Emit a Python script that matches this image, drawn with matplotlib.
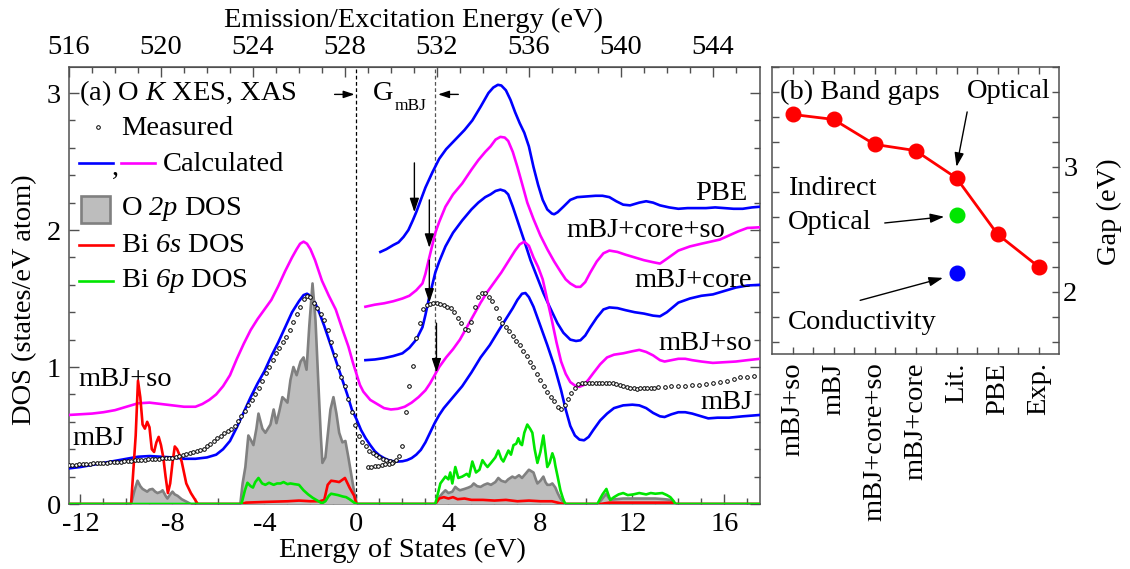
import numpy as np
import matplotlib
matplotlib.use("Agg")
import matplotlib.pyplot as plt
from matplotlib.ticker import MultipleLocator, FixedLocator
from matplotlib.patches import Rectangle
from matplotlib.lines import Line2D

plt.rcParams['font.family'] = ['Liberation Serif', 'DejaVu Serif']
plt.rcParams['mathtext.fontset'] = 'custom'
plt.rcParams['mathtext.rm'] = 'Liberation Serif'
plt.rcParams['mathtext.it'] = 'Liberation Serif:italic'
plt.rcParams['mathtext.sf'] = 'Liberation Serif:italic'
plt.rcParams['axes.unicode_minus'] = False
FS = 20.5
plt.rcParams['font.size'] = FS

BLUE = '#0000ff'
MAG = '#ff00ff'
RED = '#ff0000'
GREEN = '#00e600'
GRAY_EDGE = '#808080'
GRAY_FILL = '#bdbdbd'
SPINE = '#505050'

# ---------------- panel (a): O K-edge spectra ----------------
# calculated mBJ spectrum (emission + absorption)
mbj_e = [-12.5, -12.0, -11.5, -11.0, -10.5, -10.0, -9.5, -9.0, -8.5, -8.0, -7.5, -7.0, -6.5,
         -6.1, -5.8, -5.5, -5.2, -4.9, -4.6, -4.3, -4.0, -3.7, -3.4, -3.1, -2.8, -2.5, -2.3,
         -2.15, -2.0, -1.8, -1.6, -1.4, -1.2, -1.0, -0.8, -0.6, -0.4, -0.2, 0.0, 0.2, 0.4,
         0.6, 0.8, 1.0, 1.2, 1.4, 1.6, 1.8, 2.0, 2.2, 2.4, 2.6, 2.8, 3.0, 3.2, 3.4, 3.6, 3.8,
         4.0, 4.3, 4.6, 5.0, 5.4, 5.8, 6.2, 6.5, 6.8, 7.0, 7.2, 7.35, 7.5, 7.7, 8.0, 8.3, 8.6,
         8.9, 9.1, 9.3, 9.5, 9.7, 9.9, 10.1, 10.3, 10.6, 10.9, 11.2, 11.6, 12.0, 12.3, 12.6,
         12.9, 13.2, 13.4, 13.7, 14.0, 14.3, 14.6, 15.0, 15.3, 15.7, 16.2, 16.8, 17.55]
mbj_i = [0.26, 0.27, 0.285, 0.30, 0.315, 0.33, 0.345, 0.35, 0.345, 0.34, 0.33, 0.33, 0.34,
         0.36, 0.40, 0.46, 0.56, 0.67, 0.78, 0.88, 0.97, 1.08, 1.18, 1.29, 1.40, 1.48, 1.525,
         1.535, 1.52, 1.47, 1.39, 1.30, 1.20, 1.10, 1.00, 0.90, 0.80, 0.69, 0.62, 0.54, 0.48,
         0.43, 0.385, 0.355, 0.335, 0.32, 0.312, 0.31, 0.312, 0.32, 0.335, 0.36, 0.395, 0.45,
         0.52, 0.59, 0.65, 0.70, 0.74, 0.80, 0.86, 0.96, 1.07, 1.16, 1.27, 1.35, 1.43, 1.49,
         1.535, 1.54, 1.51, 1.44, 1.30, 1.16, 1.01, 0.83, 0.69, 0.57, 0.50, 0.47, 0.465, 0.49,
         0.54, 0.61, 0.66, 0.70, 0.72, 0.725, 0.72, 0.70, 0.665, 0.64, 0.635, 0.655, 0.67,
         0.67, 0.66, 0.64, 0.625, 0.63, 0.63, 0.64, 0.65]

# calculated mBJ+so spectrum (emission + absorption)
mbjso_e = [-12.5, -12.0, -11.5, -11.0, -10.5, -10.0, -9.5, -9.0, -8.5, -8.0, -7.5, -7.0, -6.7,
           -6.4, -6.1, -5.8, -5.5, -5.2, -4.9, -4.6, -4.3, -4.0, -3.7, -3.4, -3.1, -2.8, -2.6,
           -2.45, -2.3, -2.15, -2.0, -1.8, -1.5, -1.2, -0.9, -0.6, -0.35, -0.15, 0.0, 0.15,
           0.3, 0.6, 0.9, 1.2, 1.5, 1.8, 2.1, 2.4, 2.7, 3.0, 3.2, 3.4, 3.6, 3.9, 4.2, 4.5, 4.8,
           5.1, 5.4, 5.7, 6.0, 6.3, 6.6, 6.9, 7.1, 7.3, 7.5, 7.7, 7.9, 8.1, 8.3, 8.5, 8.7, 8.9,
           9.1, 9.3, 9.5, 9.7, 9.9, 10.1, 10.3, 10.6, 10.9, 11.2, 11.6, 12.0, 12.3, 12.6, 12.9,
           13.2, 13.4, 13.7, 14.0, 14.3, 14.6, 15.0, 15.5, 16.0, 16.5, 17.0, 17.55]
mbjso_i = [0.65, 0.655, 0.66, 0.67, 0.685, 0.71, 0.735, 0.74, 0.73, 0.72, 0.71, 0.71, 0.73,
           0.76, 0.80, 0.86, 0.94, 1.06, 1.17, 1.27, 1.35, 1.42, 1.49, 1.59, 1.70, 1.80, 1.86,
           1.90, 1.915, 1.90, 1.86, 1.78, 1.63, 1.52, 1.42, 1.27, 1.15, 1.03, 0.95, 0.87,
           0.82, 0.76, 0.73, 0.70, 0.69, 0.695, 0.71, 0.74, 0.78, 0.83, 0.88, 0.94, 1.00, 1.07,
           1.13, 1.20, 1.29, 1.38, 1.47, 1.55, 1.62, 1.69, 1.77, 1.85, 1.895, 1.915, 1.885,
           1.80, 1.73, 1.64, 1.49, 1.34, 1.18, 1.04, 0.95, 0.89, 0.865, 0.855, 0.87, 0.91,
           0.955, 1.02, 1.07, 1.09, 1.10, 1.115, 1.125, 1.11, 1.085, 1.05, 1.04, 1.05, 1.06,
           1.06, 1.05, 1.04, 1.03, 1.035, 1.04, 1.05, 1.06]

# calculated absorption: PBE
pbe_e = [1.04, 1.3, 1.6, 1.83, 2.05, 2.26, 2.45, 2.6, 2.8, 3.0, 3.3, 3.6, 3.9, 4.3, 4.7, 5.04,
         5.4, 5.74, 5.95, 6.15, 6.3, 6.5, 6.7, 6.9, 7.1, 7.3, 7.5, 7.7, 7.9, 8.1, 8.3, 8.5, 8.6,
         8.75, 9.0, 9.3, 9.6, 10.0, 10.4, 10.7, 11.0, 11.3, 11.6, 11.9, 12.3, 12.6, 12.9, 13.2,
         13.6, 14.0, 14.4, 14.8, 15.2, 15.6, 16.0, 16.4, 16.8, 17.2, 17.55]
pbe_i = [1.84, 1.86, 1.89, 1.91, 1.95, 2.00, 2.07, 2.13, 2.22, 2.31, 2.42, 2.52, 2.59, 2.66,
         2.73, 2.80, 2.90, 3.00, 3.04, 3.06, 3.055, 3.02, 2.95, 2.86, 2.78, 2.71, 2.61, 2.46,
         2.33, 2.22, 2.15, 2.12, 2.115, 2.13, 2.17, 2.22, 2.24, 2.245, 2.25, 2.25, 2.24, 2.21,
         2.185, 2.18, 2.20, 2.21, 2.20, 2.18, 2.165, 2.155, 2.16, 2.16, 2.16, 2.165, 2.16,
         2.155, 2.155, 2.165, 2.17]

# calculated absorption: mBJ+core+so
core_so_e = [0.39, 0.8, 1.2, 1.6, 2.0, 2.3, 2.6, 2.87, 3.0, 3.14, 3.3, 3.43, 3.6, 3.87, 4.2,
             4.6, 5.0, 5.3, 5.6, 5.83, 6.05, 6.26, 6.45, 6.6, 6.8, 7.0, 7.2, 7.43, 7.7, 8.0,
             8.3, 8.6, 8.9, 9.1, 9.3, 9.55, 9.74, 9.95, 10.17, 10.45, 10.74, 11.0, 11.35, 11.7,
             12.1, 12.5, 12.9, 13.2, 13.5, 14.0, 14.5, 15.0, 15.4, 15.8, 16.2, 16.6, 17.0, 17.55]
core_so_i = [1.44, 1.455, 1.465, 1.48, 1.50, 1.52, 1.56, 1.61, 1.68, 1.78, 1.89, 1.98, 2.06,
             2.17, 2.26, 2.34, 2.44, 2.51, 2.57, 2.61, 2.66, 2.68, 2.675, 2.65, 2.57, 2.46,
             2.34, 2.20, 2.08, 1.96, 1.86, 1.77, 1.69, 1.64, 1.61, 1.585, 1.585, 1.62, 1.69,
             1.77, 1.83, 1.85, 1.84, 1.82, 1.80, 1.78, 1.765, 1.755, 1.79, 1.85, 1.88, 1.90,
             1.915, 1.93, 1.96, 1.99, 2.015, 2.02]

# calculated absorption: mBJ+core
core_e = [0.39, 0.8, 1.2, 1.6, 2.0, 2.3, 2.6, 2.87, 3.0, 3.14, 3.3, 3.43, 3.6, 3.87, 4.2, 4.6,
          5.0, 5.3, 5.6, 5.83, 6.05, 6.26, 6.45, 6.6, 6.8, 7.0, 7.3, 7.57, 7.85, 8.13, 8.4,
          8.74, 9.0, 9.3, 9.55, 9.74, 9.95, 10.17, 10.45, 10.74, 11.0, 11.35, 11.7, 12.1, 12.5,
          12.9, 13.2, 13.5, 14.0, 14.5, 15.0, 15.5, 16.0, 16.5, 17.0, 17.55]
core_i = [1.05, 1.055, 1.065, 1.08, 1.10, 1.14, 1.20, 1.29, 1.38, 1.49, 1.60, 1.69, 1.77,
          1.88, 1.98, 2.07, 2.15, 2.20, 2.24, 2.26, 2.285, 2.295, 2.285, 2.26, 2.17, 2.07,
          1.92, 1.78, 1.66, 1.54, 1.44, 1.32, 1.25, 1.20, 1.19, 1.195, 1.23, 1.29, 1.36, 1.42,
          1.435, 1.43, 1.415, 1.40, 1.39, 1.375, 1.37, 1.40, 1.47, 1.50, 1.52, 1.53, 1.555,
          1.58, 1.595, 1.60]

# measured O K XES
xes_e = np.round(np.arange(-12.5, 1.61, 0.15), 2)
xes_i = [0.285, 0.287, 0.288, 0.290, 0.291, 0.293, 0.294, 0.296, 0.297, 0.299, 0.300, 0.302,
         0.304, 0.306, 0.308, 0.310, 0.312, 0.314, 0.316, 0.318, 0.320, 0.322, 0.324, 0.326,
         0.328, 0.330, 0.331, 0.333, 0.334, 0.335, 0.338, 0.345, 0.352, 0.360, 0.368, 0.375,
         0.380, 0.385, 0.392, 0.405, 0.42, 0.44, 0.46, 0.48, 0.50, 0.515, 0.53, 0.545, 0.57,
         0.605, 0.64, 0.68, 0.72, 0.76, 0.80, 0.845, 0.90, 0.955, 1.00, 1.05, 1.10, 1.14, 1.18,
         1.22, 1.27, 1.33, 1.39, 1.44, 1.50, 1.52, 1.51, 1.47, 1.43, 1.39, 1.34, 1.27, 1.18,
         1.09, 1.00, 0.93, 0.86, 0.77, 0.67, 0.58, 0.50, 0.45, 0.42, 0.39, 0.37, 0.355, 0.34,
         0.33, 0.32, 0.315, 0.31]

# measured O K XAS
xas_e = [0.50, 0.65, 0.80, 0.95, 1.10, 1.25, 1.40, 1.55, 1.70, 1.85, 2.00, 2.15, 2.30, 2.45,
         2.60, 2.75, 2.90, 3.05, 3.20, 3.35, 3.50, 3.65, 3.80, 3.95, 4.10, 4.25, 4.40, 4.55,
         4.70, 4.85, 5.00, 5.15, 5.30, 5.45, 5.60, 5.75, 5.90, 6.05, 6.20, 6.35, 6.50, 6.65,
         6.80, 6.95, 7.10, 7.25, 7.40, 7.55, 7.70, 7.85, 8.00, 8.15, 8.30, 8.45, 8.60, 8.75,
         8.90, 9.05, 9.20, 9.35, 9.50, 9.65, 9.80, 9.95, 10.10, 10.25, 10.40, 10.55, 10.70,
         10.85, 11.00, 11.15, 11.30, 11.45, 11.60, 11.75, 11.90, 12.05, 12.20, 12.35, 12.50,
         12.65, 12.80, 12.95, 13.10, 13.40, 13.70, 14.00, 14.30, 14.60, 14.90, 15.20, 15.50,
         15.80, 16.10, 16.40, 16.70, 17.00, 17.30]
xas_i = [0.27, 0.272, 0.275, 0.28, 0.285, 0.29, 0.295, 0.30, 0.32, 0.35, 0.42, 0.67, 0.86,
         1.01, 1.21, 1.32, 1.42, 1.45, 1.46, 1.47, 1.47, 1.46, 1.45, 1.44, 1.43, 1.40, 1.36,
         1.32, 1.28, 1.27, 1.33, 1.44, 1.51, 1.54, 1.54, 1.51, 1.48, 1.43, 1.36, 1.32, 1.29,
         1.26, 1.23, 1.19, 1.16, 1.12, 1.08, 1.04, 1.00, 0.95, 0.905, 0.86, 0.82, 0.78, 0.75,
         0.71, 0.69, 0.72, 0.77, 0.81, 0.85, 0.875, 0.885, 0.885, 0.885, 0.885, 0.88, 0.885,
         0.88, 0.885, 0.88, 0.88, 0.875, 0.87, 0.865, 0.855, 0.85, 0.845, 0.84, 0.845, 0.845,
         0.85, 0.85, 0.85, 0.855, 0.855, 0.86, 0.86, 0.865, 0.87, 0.87, 0.875, 0.88, 0.89,
         0.90, 0.91, 0.925, 0.93, 0.935]

# partial densities of states
o2p_e = [-12.5, -9.8, -9.65, -9.52, -9.4, -9.3, -9.2, -9.1, -9.0, -8.87, -8.75, -8.65, -8.5,
         -8.43, -8.3, -8.22, -8.1, -8.0, -7.9, -7.78, -7.6, -7.43, -7.2, -5.05, -4.95, -4.83,
         -4.7, -4.6, -4.48, -4.35, -4.26, -4.09, -3.96, -3.85, -3.74, -3.6, -3.48, -3.35,
         -3.22, -3.1, -3.0, -2.87, -2.74, -2.6, -2.5, -2.43, -2.3, -2.17, -2.05, -1.91, -1.78,
         -1.65, -1.55, -1.48, -1.35, -1.25, -1.13, -1.0, -0.87, -0.75, -0.61, -0.48, -0.35,
         -0.25, -0.13, 0.0, 3.43, 3.6, 3.75, 3.87, 4.0, 4.17, 4.3, 4.4, 4.5, 4.7, 4.87, 5.0,
         5.1, 5.25, 5.4, 5.55, 5.7, 5.85, 6.04, 6.17, 6.3, 6.48, 6.6, 6.78, 6.9, 7.07, 7.2,
         7.35, 7.5, 7.6, 7.7, 7.8, 7.87, 8.0, 8.13, 8.22, 8.3, 8.42, 8.52, 8.65, 8.75, 8.87,
         9.05, 10.48, 10.6, 10.7, 10.87, 10.95, 11.04, 11.3, 11.6, 12.0, 12.6, 13.0, 13.4,
         13.65, 13.87, 17.55]
o2p_d = [0, 0, 0.10, 0.17, 0.13, 0.11, 0.10, 0.09, 0.105, 0.11, 0.09, 0.08, 0.09, 0.10, 0.06,
         0.04, 0.07, 0.09, 0.07, 0.06, 0.035, 0.02, 0, 0, 0.15, 0.27, 0.50, 0.47, 0.43, 0.55,
         0.66, 0.55, 0.52, 0.55, 0.58, 0.69, 0.59, 0.68, 0.78, 0.76, 0.74, 0.905, 1.00, 0.94,
         1.00, 1.04, 1.07, 0.98, 1.30, 1.61, 1.34, 0.86, 0.50, 0.30, 0.34, 0.50, 0.69, 0.78,
         0.66, 0.52, 0.45, 0.46, 0.34, 0.24, 0.12, 0, 0, 0.05, 0.08, 0.10, 0.08, 0.09, 0.125,
         0.11, 0.10, 0.11, 0.12, 0.13, 0.15, 0.13, 0.125, 0.14, 0.15, 0.14, 0.16, 0.19, 0.17,
         0.16, 0.18, 0.20, 0.19, 0.21, 0.19, 0.22, 0.25, 0.24, 0.23, 0.18, 0.15, 0.17, 0.20,
         0.16, 0.14, 0.14, 0.15, 0.12, 0.08, 0.04, 0, 0, 0.02, 0.04, 0.075, 0.05, 0.03, 0.035,
         0.04, 0.04, 0.04, 0.04, 0.035, 0.03, 0, 0]

bi6s_e = [-12.5, -9.8, -9.6, -9.5, -9.4, -9.3, -9.2, -9.1, -9.0, -8.9, -8.8, -8.7, -8.6, -8.5,
          -8.4, -8.3, -8.2, -8.1, -8.0, -7.9, -7.8, -7.7, -7.6, -7.4, -7.2, -6.9, -5.0, -4.8,
          -4.0, -3.0, -2.5, -2.0, -1.6, -1.4, -1.25, -1.1, -0.9, -0.75, -0.5, -0.3, -0.1, 0.0,
          3.43, 3.6, 3.8, 4.0, 4.2, 4.4, 4.7, 5.0, 5.5, 6.0, 6.5, 7.0, 7.5, 8.0, 8.5, 9.0,
          10.6, 11.0, 13.8, 13.9, 17.55]
bi6s_d = [0, 0, 0.50, 0.90, 0.78, 0.58, 0.55, 0.60, 0.56, 0.40, 0.38, 0.45, 0.49, 0.43, 0.34,
          0.20, 0.08, 0.15, 0.30, 0.42, 0.40, 0.36, 0.31, 0.15, 0.08, 0, 0, 0.01, 0.015, 0.02,
          0.025, 0.02, 0.02, 0.03, 0.14, 0.17, 0.165, 0.16, 0.19, 0.12, 0.06, 0, 0, 0.04, 0.05,
          0.04, 0.05, 0.035, 0.04, 0.03, 0.03, 0.025, 0.03, 0.02, 0.025, 0.02, 0.02, 0, 0,
          0.01, 0.01, 0, 0]

bi6p_e = [-12.5, -5.0, -4.85, -4.74, -4.6, -4.5, -4.4, -4.26, -4.1, -3.96, -3.8, -3.6, -3.45,
          -3.3, -3.17, -3.0, -2.87, -2.7, -2.5, -2.3, -2.1, -1.9, -1.7, -1.5, -1.35, -1.2,
          -1.1, -0.95, -0.8, -0.6, -0.45, -0.3, -0.1, 0.0, 3.43, 3.65, 3.87, 4.0, 4.08, 4.17,
          4.3, 4.43, 4.6, 4.8, 4.9, 5.04, 5.2, 5.35, 5.48, 5.6, 5.7, 5.85, 6.04, 6.17, 6.3,
          6.39, 6.5, 6.61, 6.72, 6.83, 6.95, 7.04, 7.13, 7.2, 7.3, 7.43, 7.55, 7.65, 7.75, 7.87,
          8.0, 8.13, 8.22, 8.3, 8.4, 8.52, 8.6, 8.65, 8.75, 8.87, 9.0, 9.09, 10.48, 10.6, 10.7,
          10.87, 10.95, 11.04, 11.2, 11.4, 11.6, 11.8, 12.04, 12.3, 12.6, 12.8, 13.0, 13.3,
          13.5, 13.65, 13.8, 13.87, 17.55]
bi6p_d = [0, 0, 0.10, 0.155, 0.13, 0.12, 0.16, 0.19, 0.15, 0.14, 0.155, 0.14, 0.15, 0.15,
          0.16, 0.145, 0.15, 0.145, 0.14, 0.10, 0.07, 0.045, 0.025, 0.005, 0.02, 0.06, 0.075,
          0.07, 0.065, 0.055, 0.05, 0.035, 0.01, 0, 0, 0.15, 0.20, 0.18, 0.23, 0.15, 0.27,
          0.19, 0.20, 0.22, 0.20, 0.31, 0.23, 0.25, 0.32, 0.29, 0.27, 0.30, 0.34, 0.39, 0.33,
          0.31, 0.35, 0.39, 0.36, 0.43, 0.44, 0.48, 0.44, 0.43, 0.52, 0.58, 0.55, 0.52, 0.40,
          0.30, 0.38, 0.50, 0.38, 0.27, 0.30, 0.37, 0.33, 0.28, 0.20, 0.10, 0.03, 0, 0, 0.04,
          0.07, 0.11, 0.07, 0.03, 0.05, 0.07, 0.08, 0.065, 0.07, 0.08, 0.07, 0.08, 0.075, 0.08,
          0.065, 0.05, 0.02, 0, 0]

# band-gap onsets marked on the spectra (x, arrow start, arrow tip)
onset_x = [2.52, 3.17, 3.17, 3.48]
onset_from = [2.49, 2.22, 1.78, 1.32]
onset_to = [2.13, 1.87, 1.47, 0.96]
gap_mbj_lo, gap_mbj_hi = 0.0, 3.43
edge_offset = 528.5
top_ticks = [516, 520, 524, 528, 532, 536, 540, 544]

# ---------------- panel (b): band gaps ----------------
methods = ['mBJ+so', 'mBJ', 'mBJ+core+so', 'mBJ+core', 'Lit.', 'PBE', 'Exp.']
gaps = [3.42, 3.38, 3.18, 3.13, 2.91, 2.46, 2.20]
indirect_optical = 2.61
conductivity_gap = 2.15

# ================= figure =================
fig = plt.figure(figsize=(11.3, 5.69), dpi=100)
ax = fig.add_axes([69 / 1130, 65 / 569, 691 / 1130, 437 / 569])
axb = fig.add_axes([772 / 1130, 215 / 569, 287 / 1130, 287 / 569])

lw = 1.9
ax.plot(pbe_e, pbe_i, color=BLUE, lw=lw, zorder=3)
ax.plot(core_so_e, core_so_i, color=MAG, lw=lw, zorder=3)
ax.plot(core_e, core_i, color=BLUE, lw=lw, zorder=3)
ax.plot(mbjso_e, mbjso_i, color=MAG, lw=lw, zorder=3)
ax.plot(mbj_e, mbj_i, color=BLUE, lw=lw, zorder=3)

ax.fill_between(o2p_e, o2p_d, 0, color=GRAY_FILL, lw=0, zorder=4)
ax.plot(o2p_e, o2p_d, color=GRAY_EDGE, lw=1.9, zorder=4)
ax.plot(bi6s_e, bi6s_d, color=RED, lw=1.9, zorder=5)
ax.plot(bi6p_e, bi6p_d, color=GREEN, lw=1.9, zorder=6)

mk = dict(ls='none', marker='o', ms=2.6, mfc='white', mec='black', mew=0.7, zorder=7)
ax.plot(xes_e, xes_i, **mk)
ax.plot(xas_e, xas_i, **mk)

ax.axvline(gap_mbj_lo, color='black', lw=0.9, ls=(0, (3, 2)), zorder=2)
ax.axvline(gap_mbj_hi, color='#555555', lw=0.9, ls=(0, (3, 2)), zorder=2)

head = dict(arrowstyle='-|>,head_length=0.6,head_width=0.2', color='black', lw=1.0,
            mutation_scale=14, shrinkA=0, shrinkB=0)
for x0, y0, y1 in zip(onset_x, onset_from, onset_to):
    ax.annotate('', xy=(x0, y1), xytext=(x0, y0), arrowprops=head, zorder=8)

small = dict(arrowstyle='-|>,head_length=0.6,head_width=0.2', color='black', lw=1.0,
             mutation_scale=11, shrinkA=0, shrinkB=0)
ax.annotate('', xy=(gap_mbj_lo - 0.08, 2.99), xytext=(gap_mbj_lo - 0.95, 2.99), arrowprops=small)
ax.annotate('', xy=(gap_mbj_hi + 0.12, 2.99), xytext=(gap_mbj_hi + 1.0, 2.99), arrowprops=small)
ax.text(0.72, 3.0, 'G', ha='left', va='center', fontsize=FS)
ax.text(1.68, 2.905, 'mBJ', ha='left', va='center', fontsize=12.5)

# curve labels
ax.text(17.0, 2.27, 'PBE', ha='right', va='center')
ax.text(16.05, 2.0, 'mBJ+core+so', ha='right', va='center')
ax.text(17.2, 1.63, 'mBJ+core', ha='right', va='center')
ax.text(17.2, 1.17, 'mBJ+so', ha='right', va='center')
ax.text(17.25, 0.74, 'mBJ', ha='right', va='center')
ax.text(-12.1, 0.91, 'mBJ+so', ha='left', va='center')
ax.text(-12.35, 0.48, 'mBJ', ha='left', va='center')

# key
ax.text(-12.05, 3.0, r'(a) O $K$ XES, XAS', ha='left', va='center')
ax.plot([-11.26], [2.75], **mk)
ax.text(-10.25, 2.74, 'Measured', ha='left', va='center')
ax.add_line(Line2D([-12.05, -10.57], [2.49, 2.49], color=BLUE, lw=lw))
ax.text(-10.62, 2.40, ',', ha='left', va='baseline')
ax.add_line(Line2D([-10.26, -8.78], [2.49, 2.49], color=MAG, lw=lw))
ax.text(-8.43, 2.48, 'Calculated', ha='left', va='center')
ax.add_patch(Rectangle((-11.96, 2.05), 1.26, 0.20, facecolor=GRAY_FILL,
                       edgecolor=GRAY_EDGE, lw=1.9))
ax.text(-10.25, 2.15, r'O $\mathsf{2p}$ DOS', ha='left', va='center')
ax.add_line(Line2D([-12.05, -10.57], [1.89, 1.89], color=RED, lw=lw))
ax.text(-10.25, 1.89, r'Bi $\mathsf{6s}$ DOS', ha='left', va='center')
ax.add_line(Line2D([-12.05, -10.57], [1.63, 1.63], color=GREEN, lw=lw))
ax.text(-10.25, 1.63, r'Bi $\mathsf{6p}$ DOS', ha='left', va='center')

ax.set_xlim(-12.5, 17.55)
ax.set_ylim(0, 3.19)
ax.xaxis.set_major_locator(MultipleLocator(4))
ax.xaxis.set_minor_locator(MultipleLocator(1))
ax.yaxis.set_major_locator(MultipleLocator(1))
ax.yaxis.set_minor_locator(MultipleLocator(0.2))
ax.tick_params(which='both', direction='in', top=False, right=True, color=SPINE,
               labelsize=FS)
ax.tick_params(which='major', length=7, width=1, pad=6)
ax.tick_params(which='minor', length=4, width=1)
for s in ax.spines.values():
    s.set_color(SPINE)
    s.set_linewidth(1.1)

top = ax.secondary_xaxis('top', functions=(lambda x: x + edge_offset, lambda x: x - edge_offset))
top.xaxis.set_major_locator(FixedLocator(top_ticks))
top.xaxis.set_minor_locator(FixedLocator(list(range(517, 546))))
top.tick_params(which='both', direction='in', color=SPINE, labelsize=FS)
top.tick_params(which='major', length=7, width=1, pad=5)
top.tick_params(which='minor', length=4, width=1)
top.spines['top'].set_color(SPINE)

fig.text(25 / 1130, 1 - 300 / 569, 'DOS (states/eV atom)', rotation=90, ha='center', va='center')
fig.text(402 / 1130, 1 - 550 / 569, 'Energy of States (eV)', ha='center', va='center')
fig.text(413 / 1130, 1 - 20 / 569, 'Emission/Excitation Energy (eV)', ha='center', va='center')

# ---------- panel (b) ----------
xpos = np.arange(len(methods))
axb.plot(xpos, gaps, color=RED, lw=2, marker='o', ms=10.5, mfc=RED, mec=RED, zorder=3)
lit = methods.index('Lit.')
axb.plot([lit], [indirect_optical], ls='none', marker='o', ms=10.5, color=GREEN, zorder=3)
axb.plot([lit], [conductivity_gap], ls='none', marker='o', ms=10.5, color=BLUE, zorder=3)

arr = dict(arrowstyle='-|>,head_length=0.6,head_width=0.2', color='black', lw=1.0,
           mutation_scale=14, shrinkA=0, shrinkB=0)
axb.annotate('', xy=(lit, gaps[lit] + 0.09), xytext=(lit + 0.26, 3.44), arrowprops=arr)
axb.annotate('', xy=(lit - 0.3, indirect_optical - 0.01), xytext=(2.25, 2.55), arrowprops=arr)
axb.annotate('', xy=(lit - 0.33, conductivity_gap - 0.04), xytext=(1.65, 1.93), arrowprops=arr)
axb.text(-0.3, 3.6, '(b) Band gaps', ha='left', va='center')
axb.text(6.3, 3.6, 'Optical', ha='right', va='center')
axb.text(-0.12, 2.83, 'Indirect', ha='left', va='center')
axb.text(-0.12, 2.55, 'Optical', ha='left', va='center')
axb.text(-0.12, 1.75, 'Conductivity', ha='left', va='center')

axb.set_xlim(-0.5, 6.5)
axb.set_ylim(1.5, 3.8)
axb.xaxis.set_major_locator(FixedLocator(xpos))
axb.xaxis.set_minor_locator(FixedLocator(xpos[:-1] + 0.5))
axb.set_xticklabels(methods, rotation=90)
axb.yaxis.set_major_locator(MultipleLocator(1))
axb.yaxis.set_minor_locator(MultipleLocator(0.2))
axb.tick_params(which='both', direction='in', top=True, right=True, left=True,
                labelleft=False, labelright=True, color=SPINE, labelsize=FS)
axb.tick_params(which='both', length=5, width=1)
axb.tick_params(axis='x', pad=6)
axb.tick_params(axis='y', pad=3)
for s in axb.spines.values():
    s.set_color(SPINE)
    s.set_linewidth(1.1)
fig.text(1109 / 1130, 1 - 212 / 569, 'Gap (eV)', rotation=90, ha='center', va='center')

fig.savefig('out.png', dpi=100)
